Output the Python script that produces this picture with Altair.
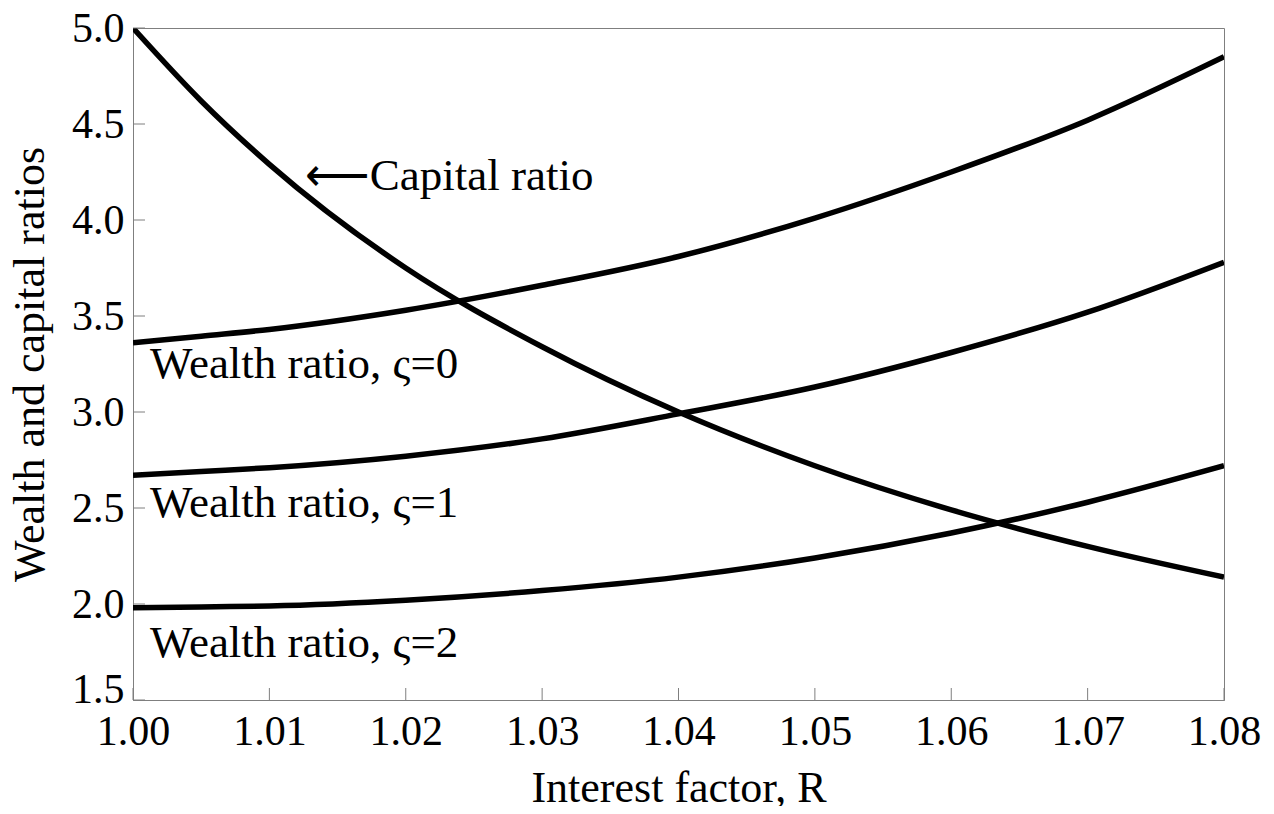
import altair as alt
import pandas as pd

R = [1.00, 1.005, 1.01, 1.02, 1.03, 1.04, 1.05, 1.06, 1.07, 1.08]
capital = [5.00, 4.62, 4.29, 3.75, 3.34, 3.00, 2.72, 2.49, 2.30, 2.14]
wealth0 = [3.36, 3.395, 3.43, 3.53, 3.66, 3.81, 4.01, 4.25, 4.52, 4.85]
wealth1 = [2.67, 2.69, 2.71, 2.77, 2.86, 2.99, 3.13, 3.31, 3.52, 3.78]
wealth2 = [1.98, 1.985, 1.99, 2.02, 2.07, 2.14, 2.24, 2.37, 2.53, 2.72]

x_ticks = [1.00, 1.01, 1.02, 1.03, 1.04, 1.05, 1.06, 1.07, 1.08]
y_ticks = [1.5, 2.0, 2.5, 3.0, 3.5, 4.0, 4.5, 5.0]

label_text = ["Wealth ratio, ς=0", "Wealth ratio, ς=1", "Wealth ratio, ς=2", "⟵Capital ratio"]
label_x = [1.00125, 1.00125, 1.00125, 1.0126]
label_y = [3.177, 2.453, 1.724, 4.156]

FONT = "Liberation Serif"
GRAY = "#7f7f7f"

rows = []
for name, vals in [("capital", capital), ("w0", wealth0), ("w1", wealth1), ("w2", wealth2)]:
    for r, v in zip(R, vals):
        rows.append({"R": r, "v": v, "series": name})
df = pd.DataFrame(rows)

xs = alt.Scale(domain=[1.0, 1.08], nice=False, zero=False)
ys = alt.Scale(domain=[1.5, 5.0], nice=False, zero=False)

lines = alt.Chart(df).mark_line(color="black", strokeWidth=5.5, interpolate="monotone", clip=True).encode(
    x=alt.X("R:Q", scale=xs, title="Interest factor, R",
            axis=alt.Axis(values=x_ticks, format=".2f", ticks=False, grid=False, labelFlush=False,
                          domainColor=GRAY, labelFont=FONT, labelFontSize=42, labelColor="black",
                          labelPadding=11, titleFont=FONT, titleFontSize=44, titleFontWeight="normal",
                          titleColor="black", titlePadding=14)),
    y=alt.Y("v:Q", scale=ys, title="Wealth and capital ratios",
            axis=alt.Axis(values=y_ticks, format=".1f", ticks=False, grid=False, labelFlush=False,
                          domainColor=GRAY, labelFont=FONT, labelFontSize=42, labelColor="black",
                          labelPadding=9,
                          labelOffset=alt.condition("datum.value == 1.5", alt.value(-11), alt.value(0)),
                          titleFont=FONT, titleFontSize=44, titleFontWeight="normal",
                          titleColor="black", titlePadding=19)),
    detail="series:N",
)

xt = alt.Chart(pd.DataFrame({"t": x_ticks})).mark_rule(color=GRAY, strokeWidth=1).encode(
    x=alt.X("t:Q", scale=xs), y=alt.value(672), y2=alt.value(660))
yt = alt.Chart(pd.DataFrame({"t": y_ticks})).mark_rule(color=GRAY, strokeWidth=1).encode(
    y=alt.Y("t:Q", scale=ys), x=alt.value(0), x2=alt.value(12))

labels = alt.Chart(pd.DataFrame({"text": label_text, "x": label_x, "y": label_y})).mark_text(
    font=FONT, fontSize=45, align="left", baseline="alphabetic", color="black").encode(
    x=alt.X("x:Q", scale=xs), y=alt.Y("y:Q", scale=ys), text="text:N")

chart = alt.layer(lines, xt, yt, labels).properties(
    width=1091, height=672,
    autosize=alt.AutoSizeParams(type="none"),
    padding={"left": 125, "top": 20, "right": 40, "bottom": 106},
).configure_view(stroke=GRAY, strokeWidth=1)

chart.save("out.html", embed_options={"renderer": "svg", "actions": False})
